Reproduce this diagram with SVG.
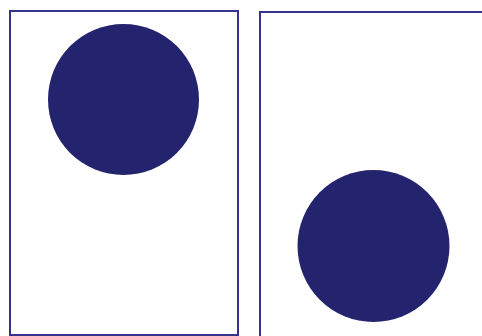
<svg xmlns="http://www.w3.org/2000/svg" width="482" height="336" viewBox="0 0 482 336">
<style>
.frame{fill:none;stroke:#34348f;stroke-width:2}
.dot{fill:#24246e}
</style>
<rect width="482" height="336" fill="#fff"/>
<g id="left-panel">
<rect class="frame" x="10" y="11" width="228" height="324"/>
<circle class="dot" cx="123.5" cy="99.5" r="75.5"/>
</g>
<g id="right-panel">
<rect class="frame" x="260" y="12" width="240" height="340"/>
<circle class="dot" cx="373.5" cy="246" r="76"/>
</g>
</svg>
